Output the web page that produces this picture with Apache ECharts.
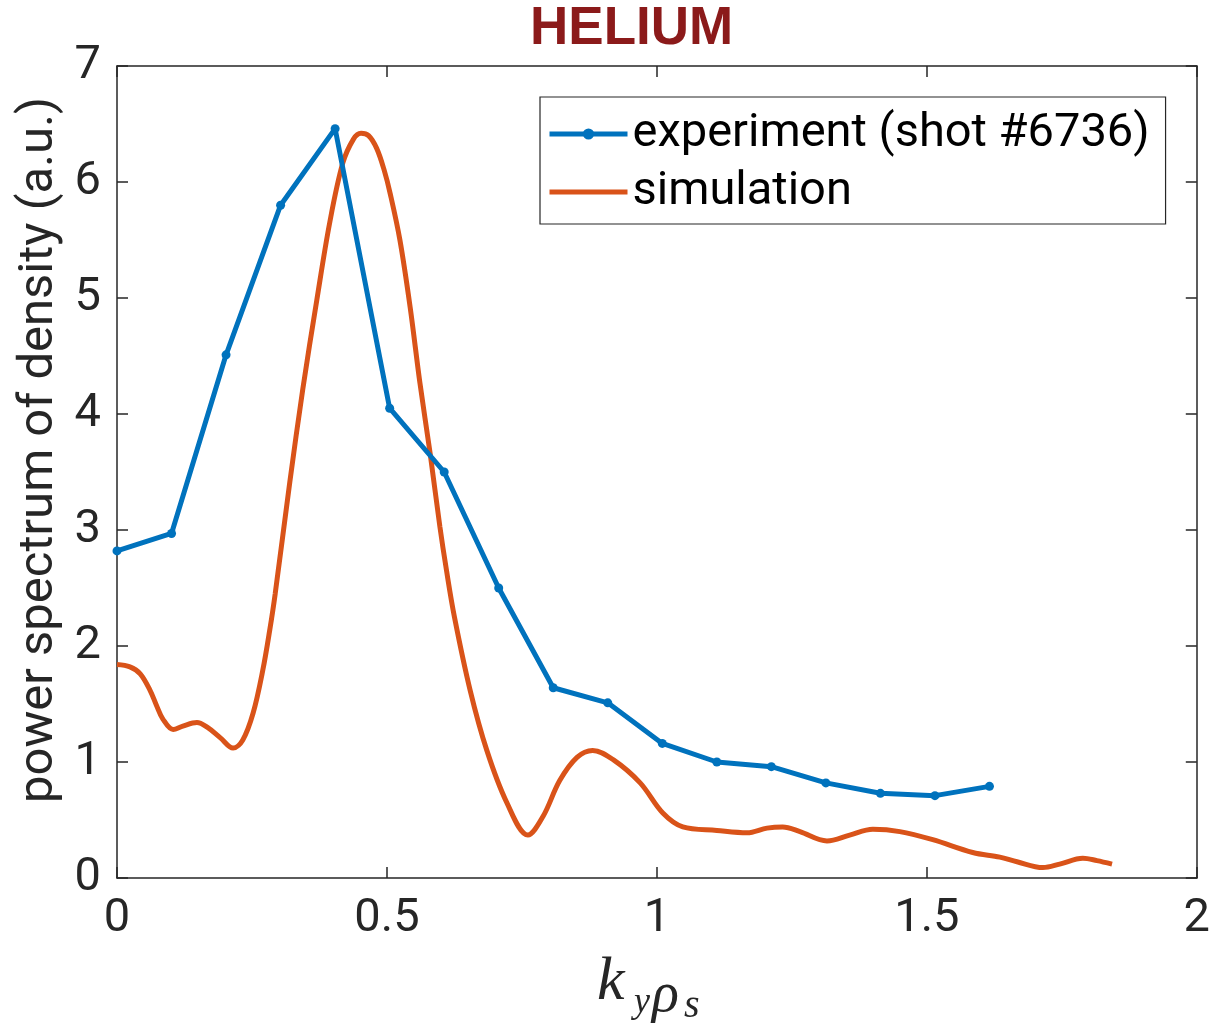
<!DOCTYPE html>
<html>
<head>
<meta charset="utf-8">
<script src="https://cdn.jsdelivr.net/npm/echarts@6/dist/echarts.min.js"></script>
<style>html,body{margin:0;padding:0;background:#fff;}#c{width:1213px;height:1029px;}</style>
</head>
<body>
<div id="c"></div>
<script>
// experiment (shot #6736)
const expX = [0, 0.101, 0.202, 0.303, 0.404, 0.505, 0.606, 0.707, 0.808, 0.909, 1.010, 1.111, 1.212, 1.313, 1.414, 1.515, 1.616];
const expY = [2.82, 2.97, 4.51, 5.80, 6.46, 4.05, 3.50, 2.50, 1.64, 1.51, 1.16, 1.00, 0.96, 0.82, 0.73, 0.71, 0.79];
// simulation
const simX = [0, 0.024, 0.043, 0.061, 0.073, 0.085, 0.104, 0.122, 0.148, 0.167, 0.191, 0.215, 0.233, 0.252, 0.270, 0.283, 0.293, 0.320, 0.344, 0.370, 0.394, 0.418, 0.438, 0.452, 0.466, 0.481, 0.495, 0.506, 0.524, 0.543, 0.561, 0.580, 0.598, 0.610, 0.625, 0.654, 0.685, 0.722, 0.761, 0.789, 0.820, 0.852, 0.881, 0.919, 0.969, 1.011, 1.048, 1.111, 1.167, 1.204, 1.233, 1.265, 1.315, 1.357, 1.400, 1.450, 1.511, 1.585, 1.635, 1.667, 1.715, 1.746, 1.789, 1.815, 1.843];
const simY = [1.84, 1.82, 1.76, 1.62, 1.49, 1.37, 1.28, 1.31, 1.34, 1.30, 1.21, 1.12, 1.19, 1.42, 1.79, 2.14, 2.45, 3.41, 4.21, 4.98, 5.65, 6.16, 6.37, 6.42, 6.40, 6.29, 6.10, 5.90, 5.50, 4.92, 4.27, 3.66, 3.03, 2.66, 2.25, 1.62, 1.10, 0.65, 0.37, 0.53, 0.84, 1.04, 1.10, 1.02, 0.82, 0.56, 0.44, 0.41, 0.39, 0.43, 0.44, 0.40, 0.32, 0.37, 0.42, 0.40, 0.33, 0.22, 0.18, 0.14, 0.09, 0.12, 0.17, 0.15, 0.12];
const xTicks = [0, 0.5, 1, 1.5, 2];
const yTicks = [0, 1, 2, 3, 4, 5, 6, 7];
const seriesNames = ['experiment (shot #6736)', 'simulation'];
const titleText = 'HELIUM';
const yLabel = 'power spectrum of density (a.u.)';

const chart = echarts.init(document.getElementById('c'), null, {renderer: 'canvas'});
const axisColor = '#262626';
const fmtX = v => (xTicks.indexOf(v) >= 0 ? String(v) : '');
const baseAxis = {
  axisLine: {show: true, onZero: false, lineStyle: {color: axisColor, width: 1.5}},
  axisTick: {show: true, inside: true, length: 11, lineStyle: {color: axisColor, width: 1.5}},
  splitLine: {show: false},
};
const serif = {fontStyle: 'italic', fontFamily: 'Liberation Serif', fill: '#262626', verticalAlign: 'middle', align: 'left'};
chart.setOption({
  animation: false,
  backgroundColor: '#fff',
  grid: {left: 117, right: 16, top: 66, bottom: 151, containLabel: false},
  xAxis: [
    Object.assign({}, baseAxis, {type: 'value', min: 0, max: 2, interval: 0.5, position: 'bottom',
      axisLabel: {show: true, margin: 18, fontSize: 47, color: axisColor, fontFamily: 'Roboto', formatter: fmtX}}),
    Object.assign({}, baseAxis, {type: 'value', min: 0, max: 2, interval: 0.5, position: 'top', axisLabel: {show: false}})
  ],
  yAxis: [
    Object.assign({}, baseAxis, {type: 'value', min: 0, max: 7, interval: 1, position: 'left',
      axisLabel: {show: true, margin: 16, fontSize: 47, color: axisColor, fontFamily: 'Roboto'}}),
    Object.assign({}, baseAxis, {type: 'value', min: 0, max: 7, interval: 1, position: 'right', axisLabel: {show: false}})
  ],
  legend: {
    show: true, orient: 'vertical', left: 540, top: 97,
    padding: [13, 16, 8, 7], itemGap: 10, itemWidth: 78, itemHeight: 14,
    borderColor: axisColor, borderWidth: 1.2, backgroundColor: '#fff',
    lineStyle: {width: 5},
    textStyle: {fontSize: 47, fontFamily: 'Roboto', color: '#000', lineHeight: 48, padding: [0, 0, 0, 0]},
    data: [
      {name: seriesNames[0]},
      {name: seriesNames[1], itemStyle: {opacity: 0}}
    ]
  },
  series: [
    {
      name: seriesNames[0], type: 'line', data: expX.map((x, i) => [x, expY[i]]),
      symbol: 'circle', symbolSize: 9, color: '#0072BD',
      lineStyle: {width: 5, color: '#0072BD'}, itemStyle: {color: '#0072BD'}, z: 3
    },
    {
      name: seriesNames[1], type: 'line', data: simX.map((x, i) => [x, simY[i]]),
      symbol: 'none', smooth: 0.35, color: '#D95319',
      lineStyle: {width: 5, color: '#D95319'}, itemStyle: {color: '#D95319'}, z: 2
    }
  ],
  graphic: [
    {type: 'text', left: 530, top: 3, z: 10,
      style: {text: titleText, fontSize: 53, fontWeight: 'bold', fontFamily: 'Liberation Sans', fill: '#8B1A1A',
        shadowColor: 'rgba(0,0,0,0.45)', shadowBlur: 5, shadowOffsetX: 3, shadowOffsetY: 3}},
    {type: 'text', x: 40, y: 450, rotation: Math.PI / 2, z: 10,
      style: {text: yLabel, fontSize: 49, fontFamily: 'Roboto', fill: axisColor, align: 'center', verticalAlign: 'middle'}},
    {type: 'text', x: 597, y: 983, z: 10, style: Object.assign({text: 'k', fontSize: 62}, serif)},
    {type: 'text', x: 634, y: 1003, z: 10, style: Object.assign({text: 'y', fontSize: 36}, serif)},
    {type: 'text', x: 652, y: 996, z: 10, style: Object.assign({text: 'ρ', fontSize: 56}, serif)},
    {type: 'text', x: 684, y: 1006, z: 10, style: Object.assign({text: 's', fontSize: 40}, serif)}
  ]
});
</script>
</body>
</html>
